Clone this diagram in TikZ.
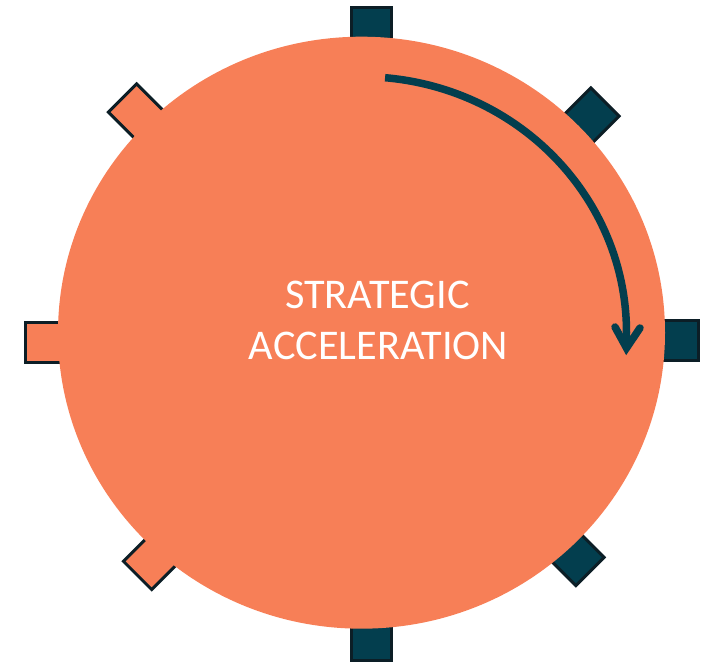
\documentclass[tikz,border=0pt]{standalone}
\usepackage{fontspec}
\setmainfont{Carlito}
\usetikzlibrary{shapes.geometric}
\definecolor{discorange}{RGB}{247,127,87}
\definecolor{tabteal}{RGB}{3,62,78}
\definecolor{tabedge}{RGB}{12,30,38}
\tikzset{
  tabbase/.style={rectangle, inner sep=0pt, minimum size=40pt, line width=3pt, draw=tabedge},
  tabdark/.style={tabbase, fill=tabteal},
  tablight/.style={tabbase, fill=discorange},
  disc/.style={ellipse, inner sep=0pt, minimum width=607pt, minimum height=592pt, fill=discorange},
  shaft/.style={draw=tabteal, line width=7.5pt, line cap=butt},
  barb/.style={draw=tabteal, line width=7.5pt, line cap=round, line join=miter},
  label/.style={text=white, anchor=base, font=\fontsize{42.3}{50}\selectfont}
}
\begin{document}
\begin{tikzpicture}[x=1pt,y=1pt]
\useasboundingbox (0,0) rectangle (702,663);
% tabs (pixel coords converted: y = 663 - py)
\node[tabdark] (ttop) at (371.5,635.5) {};
\node[tabdark] (tbottom) at (371,22.5) {};
\node[tablight] (tleft) at (45.5,320.5) {};
\node[tabdark] (tright) at (678.5,322.5) {};
\node[tabdark, rotate=45] (ttr) at (590.8,546.8) {};
\node[tablight, rotate=45] (ttl) at (136.7,550.8) {};
\node[tablight, rotate=45] (tbl) at (151.7,101.7) {};
\node[tabdark, rotate=45] (tbr) at (575.8,105.7) {};
% main disc
\node[disc] (disc) at (361.5,330.3) {};
% curved arrow
\draw[shaft] (disc.center) ++(84.9:265 and 256) arc[start angle=84.9, end angle=-3.5, x radius=265, y radius=256];
\coordinate (tip) at (626.5,315);
\coordinate (wingl) at (615,336);
\coordinate (wingr) at (640,335);
\draw[barb] (wingl) -- (tip) -- (wingr);
% text
\node[label] (l1) at (377.5,354) {STRATEGIC};
\node[label] (l2) at (378.5,303) {ACCELERATION};
\end{tikzpicture}
\end{document}
